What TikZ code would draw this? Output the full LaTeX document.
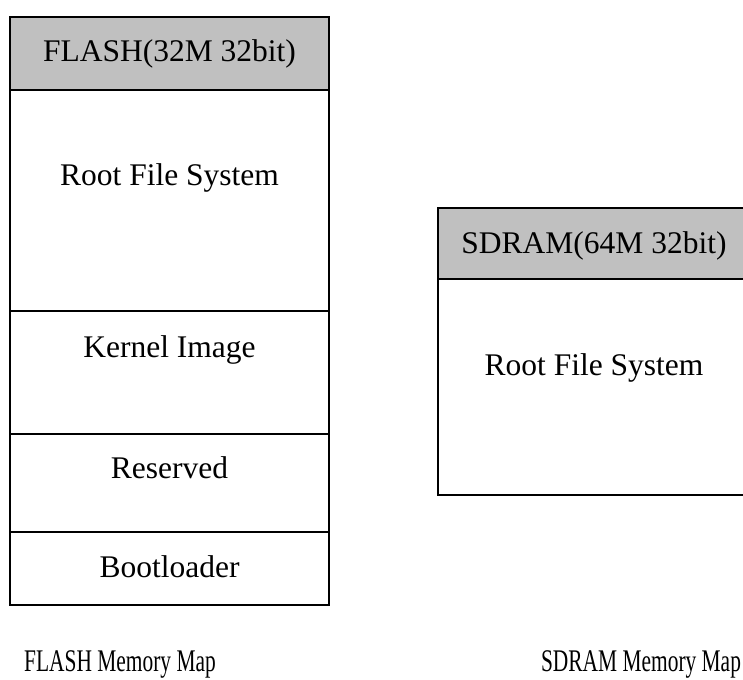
\documentclass[tikz,border=0pt]{standalone}
\usepackage{fontspec}
\setmainfont{Liberation Serif}
\usetikzlibrary{positioning}

\definecolor{headgray}{RGB}{192,192,192}

\tikzset{
  memblock/.style={draw, line width=1.6pt, outer sep=0pt, inner sep=0pt},
  memhead/.style={memblock, fill=headgray},
  memtext/.style={anchor=base, font=\fontsize{31.5}{36}\selectfont},
  maptitle/.style={anchor=base, font=\fontsize{31.5}{36}\selectfont}
}

\begin{document}
\begin{tikzpicture}[x=1pt, y=-1pt]
  \useasboundingbox (0,0) rectangle (743,679);
  \clip (0,0) rectangle (743,679);

  % flash memory map
  \node[memhead, minimum width=319pt, minimum height=73pt, anchor=north west] (flashhead) at (10,17) {};
  \node[memblock, minimum width=319pt, minimum height=221pt, below=0pt of flashhead] (flashrfs) {};
  \node[memblock, minimum width=319pt, minimum height=123pt, below=0pt of flashrfs] (kernel) {};
  \node[memblock, minimum width=319pt, minimum height=98pt, below=0pt of kernel] (reserved) {};
  \node[memblock, minimum width=319pt, minimum height=73pt, below=0pt of reserved] (boot) {};

  \node[memtext] (flashheadtxt) at ([yshift=-45pt]flashhead.north) {FLASH(32M 32bit)};
  \node[memtext] (flashrfstxt) at ([yshift=-95pt]flashrfs.north) {Root File System};
  \node[memtext] (kerneltxt) at ([yshift=-46pt]kernel.north) {Kernel Image};
  \node[memtext] (reservedtxt) at ([yshift=-44pt]reserved.north) {Reserved};
  \node[memtext] (boottxt) at ([yshift=-45pt]boot.north) {Bootloader};

  % sdram memory map
  \node[memhead, minimum width=312pt, minimum height=71pt, anchor=north west] (sdramhead) at (438,208) {};
  \node[memblock, minimum width=312pt, minimum height=216pt, below=0pt of sdramhead] (sdramrfs) {};

  \node[memtext] (sdramheadtxt) at ([yshift=-45pt]sdramhead.north) {SDRAM(64M 32bit)};
  \node[memtext] (sdramrfstxt) at ([yshift=-96pt]sdramrfs.north) {Root File System};

  % captions
  \node[maptitle] (flashtitle) at (120,671) {\scalebox{0.68}[1]{FLASH Memory Map}};
  \node[maptitle] (sdramtitle) at (641,671) {\scalebox{0.68}[1]{SDRAM Memory Map}};
\end{tikzpicture}
\end{document}
